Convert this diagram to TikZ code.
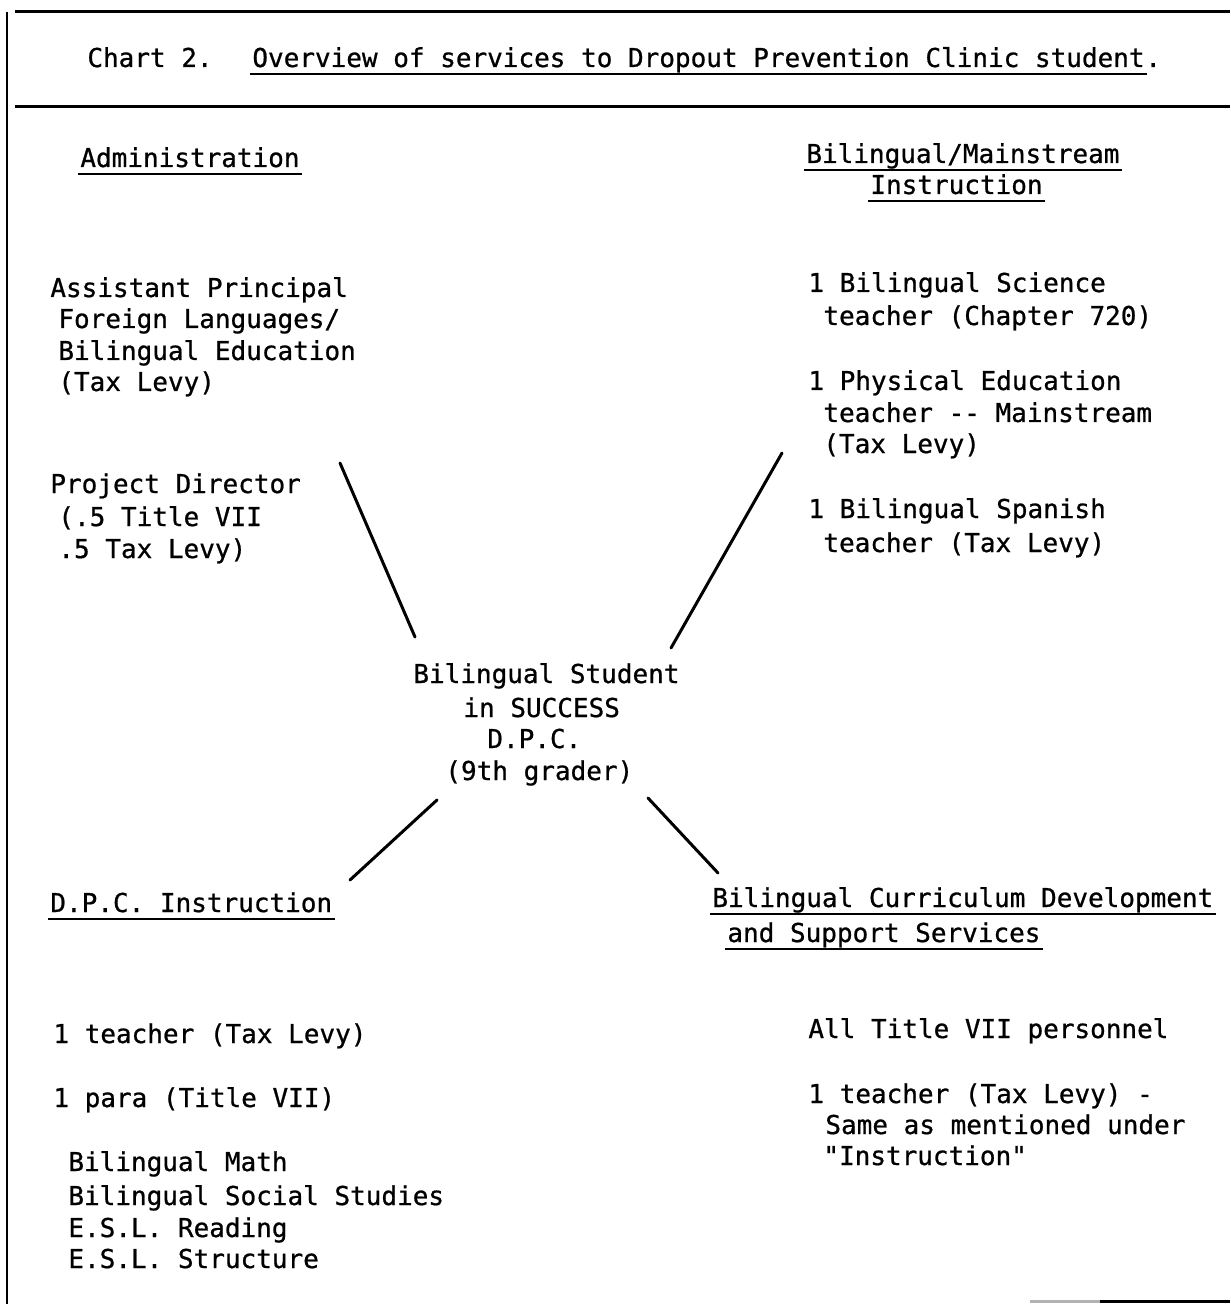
\documentclass[tikz,border=0pt]{standalone}
\usepackage{fontspec}
\setmonofont{DejaVu Sans Mono}[FakeBold=0.8]
\tikzset{
  txt/.style={anchor=base west,inner sep=0pt,font=\ttfamily\fontsize{13}{16}\selectfont},
  rule/.style={line width=1.5pt},
  uline/.style={line width=1.2pt},
  spoke/.style={line width=1.5pt,line cap=round},
}
\begin{document}
\begin{tikzpicture}[x=0.5pt,y=-0.5pt]
\useasboundingbox (0,0) rectangle (1230,1304);
% frame
\draw[rule] (15,12) -- (1230,12);
\draw[rule] (15,107) -- (1230,107);
\draw[line width=1pt] (7,12) -- (7,1304);
\draw[rule,gray!60] (1030,1301) -- (1100,1301);
\draw[rule] (1100,1301) -- (1230,1301);
% title
\node[txt] (chart) at (87,67) {Chart 2.};
\node[txt] (ttl) at (252,67) {Overview of services to Dropout Prevention Clinic student};
\node[txt] (ttldot) at (ttl.base east) {.};
% headings
\node[txt] (adm) at (80,167) {Administration};
\node[txt] (bmi1) at (806,163) {Bilingual/Mainstream};
\node[txt] (bmi2) at (870,194) {Instruction};
\node[txt] (dpc) at (50,912) {D.P.C. Instruction};
\node[txt] (bcd1) at (712,907) {Bilingual Curriculum Development};
\node[txt] (bcd2) at (727,942) {and Support Services};
\foreach \n in {ttl,adm,bmi1,bmi2,dpc,bcd1,bcd2}
  \draw[uline] ([xshift=-1pt,yshift=-3.5pt]\n.base west) -- ([xshift=1pt,yshift=-3.5pt]\n.base east);
% administration
\foreach \x/\y/\t [count=\i] in {50/297/{Assistant Principal},58/328/{Foreign Languages/},
    58/360/{Bilingual Education},58/391/{(Tax Levy)},50/493/{Project Director},
    58/526/{(.5 Title VII},58/558/{.5 Tax Levy)}}
  \node[txt] (adm\i) at (\x,\y) {\t};
% bilingual/mainstream instruction
\foreach \x/\y/\t [count=\i] in {808/292/{1 Bilingual Science},823/325/{teacher (Chapter 720)},
    808/390/{1 Physical Education},823/422/{teacher -{}- Mainstream},823/453/{(Tax Levy)},
    808/518/{1 Bilingual Spanish},823/552/{teacher (Tax Levy)}}
  \node[txt] (bmi\i) at (\x,\y) {\t};
% student
\foreach \x/\y/\t [count=\i] in {413/683/{Bilingual Student},463/717/{in SUCCESS},
    487/748/{D.P.C.},445/780/{(9th grader)}}
  \node[txt] (stu\i) at (\x,\y) {\t};
% d.p.c. instruction
\foreach \x/\y/\t [count=\i] in {53/1043/{1 teacher (Tax Levy)},53/1107/{1 para (Title VII)},
    68/1171/{Bilingual Math},68/1205/{Bilingual Social Studies},68/1237/{E.S.L. Reading},
    68/1268/{E.S.L. Structure}}
  \node[txt] (dpc\i) at (\x,\y) {\t};
% curriculum development
\foreach \x/\y/\t [count=\i] in {808/1038/{All Title VII personnel},808/1103/{1 teacher (Tax Levy) -},
    825/1134/{Same as mentioned under},823/1165/{"Instruction"}}
  \node[txt] (bcd\i) at (\x,\y) {\t};
% spokes
\coordinate (ul) at (340,463); \coordinate (ulc) at (415,637);
\coordinate (ur) at (782,453); \coordinate (urc) at (671,648);
\coordinate (ll) at (350,880); \coordinate (llc) at (437,800);
\coordinate (lr) at (718,873); \coordinate (lrc) at (648,798);
\foreach \a/\b in {ul/ulc,ur/urc,llc/ll,lrc/lr}
  \draw[spoke] (\a) -- (\b);
\end{tikzpicture}
\end{document}
